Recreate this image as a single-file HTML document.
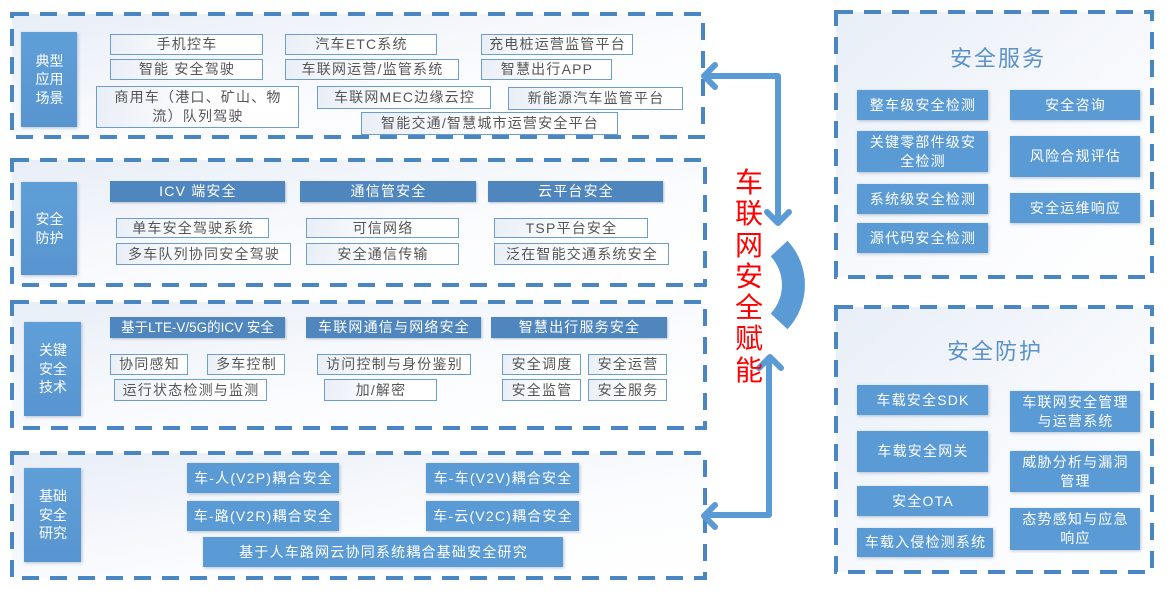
<!DOCTYPE html>
<html><head><meta charset="utf-8">
<style>
*{margin:0;padding:0;box-sizing:border-box}
html,body{width:1169px;height:591px;overflow:hidden;background:#fff}
body{position:relative;font-family:"Liberation Sans","Noto Sans CJK SC",sans-serif}
svg.bg{position:absolute;left:0;top:0;z-index:0}
.b{position:absolute;display:flex;align-items:center;justify-content:center;text-align:center;white-space:nowrap;font-size:14px;letter-spacing:1.2px;padding-left:1px;line-height:19px;z-index:1}
.o{border:1.5px solid #6b9dd0;background:linear-gradient(100deg,#e9eef6 0%,#ffffff 55%);color:#555}
.h{background:#4f86be;color:#fff;box-shadow:1px 1px 2px rgba(60,90,130,.35)}
.f{background:#5b9bd5;color:#fff;box-shadow:1px 1px 3px rgba(60,90,130,.35)}
.l{background:linear-gradient(180deg,#5f9fd8,#5895d0);color:#fff;box-shadow:1px 1px 3px rgba(60,90,130,.35);letter-spacing:0;line-height:18.5px;font-size:14px}
.t{position:absolute;z-index:1;color:#5b90c8;font-size:22px;letter-spacing:2px;white-space:nowrap;transform:translate(-50%,-50%)}
.red{position:absolute;left:734px;top:167px;width:30px;color:#ff0000;font-size:28px;line-height:31.3px;text-align:center;z-index:1}
</style></head><body>
<svg class="bg" width="1169" height="591" viewBox="0 0 1169 591">
<defs>
<linearGradient id="g" x1="0" y1="0" x2="1" y2="1">
<stop offset="0" stop-color="#e8eef7"/><stop offset="0.6" stop-color="#fbfcfe"/><stop offset="1" stop-color="#ffffff"/>
</linearGradient>
<linearGradient id="g2" x1="0" y1="0" x2="1" y2="1">
<stop offset="0" stop-color="#e8eef7"/><stop offset="0.7" stop-color="#fbfcfe"/><stop offset="1" stop-color="#ffffff"/>
</linearGradient>
</defs>
<g fill="url(#g)" stroke="#4a86c1" stroke-width="4" stroke-dasharray="17 11">
<rect x="12" y="14" width="691" height="123"/>
<rect x="12" y="160" width="693" height="125"/>
<rect x="12" y="302" width="693" height="126"/>
<rect x="12" y="453" width="693" height="125"/>
<rect x="836" y="12" width="316" height="265" fill="url(#g2)"/>
<rect x="836" y="307" width="316" height="265" fill="url(#g2)"/>
</g>
<g fill="none" stroke="#5b9bd5" stroke-width="6" stroke-linecap="round" stroke-linejoin="round">
<path d="M705 76 H778 V221"/>
<path d="M715 65 L704 76 L715 87"/>
<path d="M767 212 L778 223 L789 212"/>
<path d="M769 359 V515 H705"/>
<path d="M759 368 L770 357 L781 368"/>
<path d="M715 505 L704 516 L715 527"/>
</g>
<path d="M787.5 240.7 A65 65 0 0 1 787.5 329.3 L770.7 313.6 A42 42 0 0 0 770.7 256.4 Z" fill="#5b9bd5"/>
</svg>

<!-- Section 1 -->
<div class="b l" style="left:21px;top:32px;width:56px;height:95px">典型<br>应用<br>场景</div>
<div class="b o" style="left:110px;top:34px;width:153px;height:21px">手机控车</div>
<div class="b o" style="left:285px;top:34px;width:152px;height:21px">汽车ETC系统</div>
<div class="b o" style="left:481px;top:34px;width:152px;height:21px">充电桩运营监管平台</div>
<div class="b o" style="left:110px;top:59px;width:153px;height:21px">智能 安全驾驶</div>
<div class="b o" style="left:285px;top:59px;width:174px;height:21px">车联网运营/监管系统</div>
<div class="b o" style="left:481px;top:59px;width:131px;height:21px">智慧出行APP</div>
<div class="b o" style="left:96px;top:86px;width:203px;height:42px">商用车（港口、矿山、物<br>流）队列驾驶</div>
<div class="b o" style="left:317px;top:86px;width:174px;height:23px">车联网MEC边缘云控</div>
<div class="b o" style="left:508px;top:87px;width:175px;height:23px">新能源汽车监管平台</div>
<div class="b o" style="left:361px;top:112px;width:257px;height:23px">智能交通/智慧城市运营安全平台</div>

<!-- Section 2 -->
<div class="b l" style="left:21px;top:182px;width:56px;height:93px">安全<br>防护</div>
<div class="b h" style="left:110px;top:181px;width:175px;height:21px">ICV 端安全</div>
<div class="b h" style="left:300px;top:181px;width:176px;height:21px">通信管安全</div>
<div class="b h" style="left:488px;top:181px;width:175px;height:21px">云平台安全</div>
<div class="b o" style="left:116px;top:218px;width:153px;height:20px">单车安全驾驶系统</div>
<div class="b o" style="left:116px;top:243px;width:175px;height:22px">多车队列协同安全驾驶</div>
<div class="b o" style="left:306px;top:218px;width:153px;height:20px">可信网络</div>
<div class="b o" style="left:306px;top:243px;width:153px;height:22px">安全通信传输</div>
<div class="b o" style="left:494px;top:218px;width:154px;height:20px">TSP平台安全</div>
<div class="b o" style="left:494px;top:243px;width:175px;height:22px">泛在智能交通系统安全</div>

<!-- Section 3 -->
<div class="b l" style="left:24px;top:322px;width:57px;height:94px">关键<br>安全<br>技术</div>
<div class="b h" style="left:110px;top:317px;width:175px;height:21px;letter-spacing:0;padding-left:0;font-size:13.5px">基于LTE-V/5G的ICV 安全</div>
<div class="b h" style="left:306px;top:317px;width:175px;height:21px">车联网通信与网络安全</div>
<div class="b h" style="left:491px;top:317px;width:176px;height:21px">智慧出行服务安全</div>
<div class="b o" style="left:110px;top:354px;width:78px;height:21px">协同感知</div>
<div class="b o" style="left:207px;top:354px;width:78px;height:21px">多车控制</div>
<div class="b o" style="left:114px;top:379px;width:153px;height:22px">运行状态检测与监测</div>
<div class="b o" style="left:317px;top:354px;width:154px;height:21px">访问控制与身份鉴别</div>
<div class="b o" style="left:324px;top:379px;width:113px;height:22px">加/解密</div>
<div class="b o" style="left:502px;top:354px;width:79px;height:21px">安全调度</div>
<div class="b o" style="left:588px;top:354px;width:79px;height:21px">安全运营</div>
<div class="b o" style="left:502px;top:379px;width:79px;height:22px">安全监管</div>
<div class="b o" style="left:588px;top:379px;width:79px;height:22px">安全服务</div>

<!-- Section 4 -->
<div class="b l" style="left:24px;top:468px;width:57px;height:94px">基础<br>安全<br>研究</div>
<div class="b f" style="left:187px;top:463px;width:152px;height:30px">车-人(V2P)耦合安全</div>
<div class="b f" style="left:187px;top:501px;width:152px;height:30px">车-路(V2R)耦合安全</div>
<div class="b f" style="left:203px;top:537px;width:360px;height:30px">基于人车路网云协同系统耦合基础安全研究</div>
<div class="b f" style="left:426px;top:463px;width:153px;height:30px">车-车(V2V)耦合安全</div>
<div class="b f" style="left:426px;top:501px;width:153px;height:30px">车-云(V2C)耦合安全</div>

<!-- Middle -->
<div class="red">车<br>联<br>网<br>安<br>全<br>赋<br>能</div>

<!-- Right panel 1 -->
<div class="t" style="left:998px;top:57px">安全服务</div>
<div class="b f" style="left:857px;top:90px;width:131px;height:30px">整车级安全检测</div>
<div class="b f" style="left:857px;top:131px;width:131px;height:41px">关键零部件级安<br>全检测</div>
<div class="b f" style="left:857px;top:184px;width:131px;height:30px">系统级安全检测</div>
<div class="b f" style="left:857px;top:223px;width:131px;height:30px">源代码安全检测</div>
<div class="b f" style="left:1010px;top:90px;width:130px;height:30px">安全咨询</div>
<div class="b f" style="left:1010px;top:136px;width:130px;height:41px">风险合规评估</div>
<div class="b f" style="left:1010px;top:193px;width:130px;height:30px">安全运维响应</div>

<!-- Right panel 2 -->
<div class="t" style="left:995px;top:350px">安全防护</div>
<div class="b f" style="left:857px;top:385px;width:131px;height:30px">车载安全SDK</div>
<div class="b f" style="left:857px;top:431px;width:131px;height:41px">车载安全网关</div>
<div class="b f" style="left:857px;top:486px;width:131px;height:30px">安全OTA</div>
<div class="b f" style="left:857px;top:528px;width:136px;height:29px">车载入侵检测系统</div>
<div class="b f" style="left:1010px;top:391px;width:130px;height:41px">车联网安全管理<br>与运营系统</div>
<div class="b f" style="left:1010px;top:451px;width:130px;height:41px">威胁分析与漏洞<br>管理</div>
<div class="b f" style="left:1010px;top:508px;width:130px;height:42px">态势感知与应急<br>响应</div>
</body></html>
